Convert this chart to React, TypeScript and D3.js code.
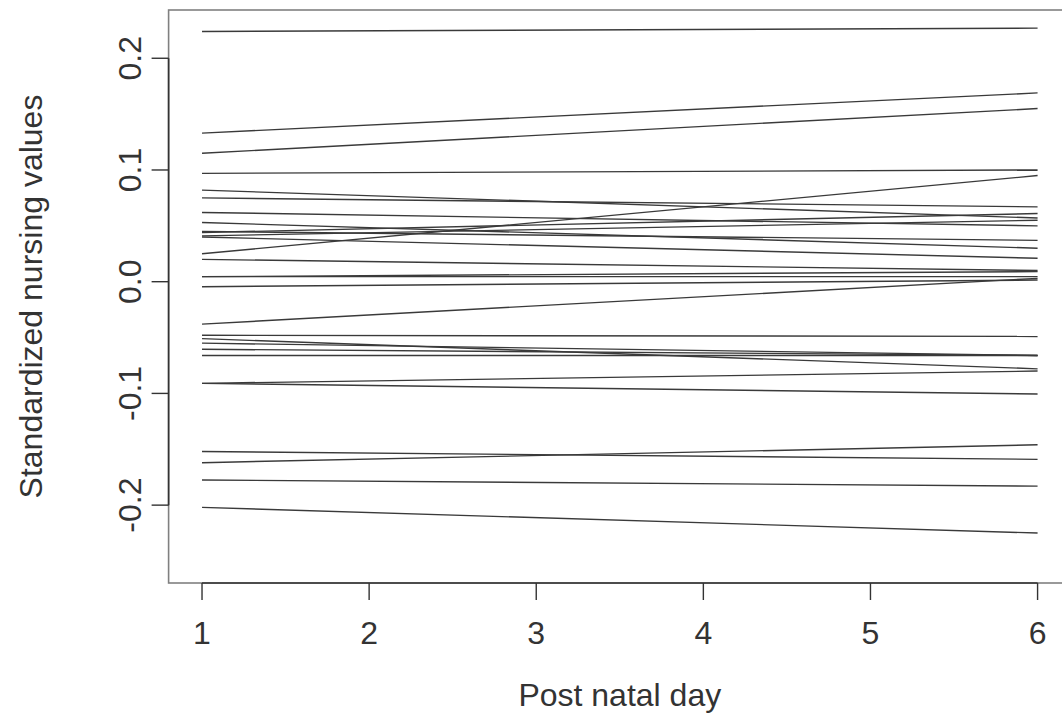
import React from "react";
import * as d3 from "d3";

const days = [1, 2, 3, 4, 5, 6];
const yTicks = [-0.2, -0.1, 0.0, 0.1, 0.2];
const yTickLabels = ["-0.2", "-0.1", "0.0", "0.1", "0.2"];
// standardized nursing value at day 1 and day 6 for each individual
const startValues = [
  0.224, 0.133, 0.115, 0.097, 0.025, 0.082, 0.075, 0.062, 0.053, 0.045,
  0.044, 0.041, 0.040, 0.020, 0.0045, 0.0045, -0.0045, -0.038, -0.048, -0.051,
  -0.055, -0.0605, -0.066, -0.091, -0.091, -0.152, -0.162, -0.1775, -0.202,
];
const endValues = [
  0.227, 0.169, 0.155, 0.100, 0.095, 0.057, 0.067, 0.050, 0.030, 0.037,
  0.061, 0.055, 0.021, 0.010, 0.009, 0.0045, 0.0015, 0.003, -0.049, -0.078,
  -0.066, -0.066, -0.066, -0.080, -0.1005, -0.159, -0.146, -0.183, -0.225,
];

const W = 1062;
const H = 724;
const FONT = "'Liberation Sans', Arial, Helvetica, sans-serif";

export default function App() {
  const x = d3.scaleLinear().domain([0.8, 6.2]).range([168.6, 1071]);
  const y = d3.scaleLinear().domain([-0.2697, 0.2432]).range([583, 10]);
  const line = d3
    .line<[number, number]>()
    .x((d) => x(d[0]))
    .y((d) => y(d[1]));
  const series = startValues.map((s, i) => [
    [1, s],
    [6, endValues[i]],
  ] as [number, number][]);
  const tickLen = 17;
  const textColor = "#333";
  const fs = 32;

  return (
    <svg
      width={W}
      height={H}
      style={{ position: "absolute", left: 0, top: 0, background: "#fff" }}
    >
      <rect x={0} y={0} width={W} height={H} fill="#fff" />
      {/* plot box */}
      <rect
        x={x(0.8)}
        y={y(0.2432)}
        width={x(6.2) - x(0.8)}
        height={y(-0.2697) - y(0.2432)}
        fill="none"
        stroke="#808080"
        strokeWidth={1.6}
      />
      {/* lines */}
      {series.map((d, i) => (
        <path
          key={i}
          d={line(d) || ""}
          fill="none"
          stroke="#3a3a3a"
          strokeWidth={1.4}
        />
      ))}
      {/* x axis */}
      <line
        x1={x(1)}
        x2={x(6)}
        y1={583}
        y2={583}
        stroke="#333"
        strokeWidth={1.6}
      />
      {days.map((d) => (
        <g key={d}>
          <line
            x1={x(d)}
            x2={x(d)}
            y1={583}
            y2={583 + tickLen}
            stroke="#333"
            strokeWidth={1.4}
          />
          <text
            x={x(d)}
            y={644}
            textAnchor="middle"
            fontFamily={FONT}
            fontSize={fs}
            fill={textColor}
          >
            {d}
          </text>
        </g>
      ))}
      {/* y axis */}
      <line
        x1={x(0.8)}
        x2={x(0.8)}
        y1={y(-0.2)}
        y2={y(0.2)}
        stroke="#333"
        strokeWidth={1.6}
      />
      {yTicks.map((t, i) => (
        <g key={t}>
          <line
            x1={x(0.8) - tickLen}
            x2={x(0.8)}
            y1={y(t)}
            y2={y(t)}
            stroke="#333"
            strokeWidth={1.4}
          />
          <text
            transform={`translate(141,${y(t)}) rotate(-90)`}
            textAnchor="middle"
            fontFamily={FONT}
            fontSize={fs}
            fill={textColor}
          >
            {yTickLabels[i]}
          </text>
        </g>
      ))}
      <text
        x={(x(0.8) + x(6.2)) / 2}
        y={706}
        textAnchor="middle"
        fontFamily={FONT}
        fontSize={fs}
        fill={textColor}
      >
        Post natal day
      </text>
      <text
        transform={`translate(42,${(y(0.2432) + y(-0.2697)) / 2}) rotate(-90)`}
        textAnchor="middle"
        fontFamily={FONT}
        fontSize={fs}
        fill={textColor}
      >
        Standardized nursing values
      </text>
    </svg>
  );
}
